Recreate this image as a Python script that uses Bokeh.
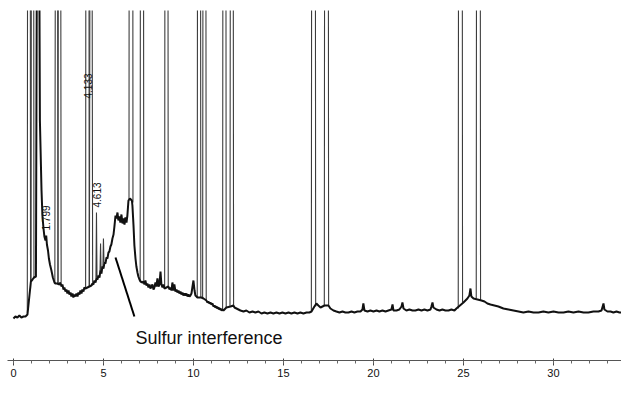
from math import pi
from bokeh.plotting import figure
from bokeh.models import Range1d, FixedTicker, Label
from bokeh.embed import file_html
from bokeh.resources import INLINE

# ---- data (retention time in min, detector signal in arbitrary units) ----
base_t = [
    0.00, 0.11, 0.22, 0.33, 0.44, 0.56, 0.67, 0.78, 0.86, 0.97, 1.06, 1.14, 1.25, 1.36, 1.47,
    1.56, 1.61, 1.67, 1.72, 1.78, 1.82, 1.86, 1.92, 1.97, 2.03, 2.11, 2.19, 2.28,
    2.33, 2.44, 2.56, 2.61, 2.67, 2.72, 2.78, 2.83, 2.89, 2.94, 3.00, 3.06, 3.11, 3.17, 3.22,
    3.28, 3.33, 3.39, 3.44, 3.50, 3.56, 3.61, 3.67, 3.72, 3.78, 3.83, 3.89, 3.94, 4.00,
    4.11, 4.22, 4.33, 4.39, 4.44, 4.50, 4.56, 4.61, 4.67, 4.72, 4.78, 4.83, 4.89, 4.94, 5.00,
    5.06, 5.11, 5.17, 5.22, 5.28, 5.33, 5.39, 5.44, 5.50, 5.56, 5.61, 5.67, 5.72, 5.78, 5.83,
    5.89, 5.94, 6.00, 6.06, 6.11, 6.17, 6.22, 6.28, 6.33, 6.39,
    6.47, 6.58, 6.61, 6.67, 6.72, 6.78, 6.83, 6.89, 6.94, 7.00, 7.06, 7.17, 7.22, 7.28, 7.33,
    7.39, 7.44, 7.50, 7.56, 7.61, 7.67, 7.72, 7.78, 7.83, 7.89, 7.94, 8.00, 8.06, 8.11, 8.17,
    8.22, 8.28, 8.33, 8.39, 8.61, 8.67, 8.72, 8.78, 8.83, 8.89, 8.94, 9.00, 9.06, 9.11, 9.17,
    9.22, 9.28, 9.33, 9.39, 9.44, 9.50, 9.56, 9.61, 9.67, 9.72, 9.78, 9.83, 9.89, 9.94, 10.00,
    10.06, 10.11, 10.17, 10.22, 10.44, 10.56, 10.72, 10.78, 10.83, 10.89, 10.94, 11.00, 11.06,
    11.11, 11.17, 11.22, 11.28, 11.33, 11.39, 11.44, 11.50, 11.56, 11.61, 11.67, 11.83, 12.06,
    12.22, 12.28, 12.39, 12.50, 12.61, 12.78, 12.94, 13.11, 13.28, 13.44, 13.61, 13.78, 13.94,
    14.11, 14.28, 14.44, 14.61, 14.78, 14.94, 15.11, 15.28, 15.44, 15.61, 15.78, 15.94, 16.11,
    16.28, 16.44, 16.56, 16.72, 16.83, 16.94, 17.06, 17.17, 17.28, 17.50, 17.61, 17.78, 17.94,
    18.11, 18.28, 18.44, 18.61, 18.78, 18.94, 19.11, 19.28, 19.39, 19.44, 19.50, 19.67, 19.83,
    20.00, 20.17, 20.33, 20.50, 20.67, 20.83, 21.00, 21.06, 21.11, 21.28, 21.44, 21.56, 21.61,
    21.67, 21.83, 22.00, 22.17, 22.33, 22.50, 22.67, 22.83, 23.00, 23.17, 23.22, 23.28, 23.33,
    23.50, 23.67, 23.83, 24.00, 24.17, 24.33, 24.50, 24.61, 25.00, 25.11, 25.22, 25.33, 25.39,
    25.44, 25.56, 26.00, 26.17, 26.33, 26.50, 26.72, 26.94, 27.22, 27.50, 27.78, 28.06, 28.33,
    28.61, 28.89, 29.17, 29.44, 29.72, 30.00, 30.28, 30.56, 30.83, 31.11, 31.39, 31.67, 31.94,
    32.22, 32.50, 32.67, 32.78, 32.83, 33.00, 33.17, 33.33, 33.50, 33.67, 33.78,
]
base_s = [
    42, 44, 43, 45, 43, 44, 44, 46, 60, 79, 81, 83, 84, 760, 240,
    170, 145, 132, 124, 120, 125, 116, 110, 102, 96, 90, 83, 78,
    77, 77, 76, 78, 74, 76, 71, 73, 69, 71, 67, 70, 66, 68, 64,
    67, 63, 66, 64, 67, 64, 68, 66, 70, 67, 71, 69, 73, 72,
    73, 74, 75, 77, 76, 80, 78, 82, 81, 85, 83, 90, 87, 94, 92,
    98, 97, 103, 102, 108, 109, 114, 116, 122, 126, 134, 145, 142, 148, 140,
    144, 138, 146, 137, 142, 136, 143, 138, 145, 160,
    162, 160, 155, 135, 115, 102, 94, 88, 84, 81, 79, 78, 79, 76, 80,
    75, 77, 73, 76, 72, 74, 76, 71, 73, 78, 74, 82, 74, 76, 89,
    76, 73, 76, 72, 74, 71, 73, 70, 78, 70, 76, 69, 71, 68, 70,
    67, 69, 66, 68, 65, 67, 65, 67, 64, 66, 64, 65, 67, 73, 80,
    70, 65, 64, 63, 63, 62, 60, 58, 59, 57, 58, 56, 57,
    54, 55, 53, 54, 52, 53, 51, 52, 50, 51, 50, 53, 54,
    55, 53, 52, 51, 50, 49, 50, 48, 49, 48, 49, 47, 48,
    47, 48, 47, 48, 47, 48, 47, 48, 47, 48, 47, 48, 47,
    48, 48, 49, 54, 57, 55, 53, 54, 55, 55, 52, 50, 49,
    48, 49, 48, 48, 49, 48, 49, 49, 51, 57, 50, 49, 50,
    49, 50, 49, 50, 49, 50, 51, 56, 50, 50, 51, 54, 58,
    52, 50, 51, 50, 50, 51, 50, 51, 50, 51, 54, 58, 53,
    51, 50, 51, 50, 50, 51, 50, 52, 58, 60, 62, 65, 72,
    64, 62, 60, 59, 57, 56, 55, 54, 52, 51, 50, 49, 48,
    49, 48, 48, 49, 48, 49, 48, 48, 49, 48, 49, 48, 48,
    49, 49, 50, 57, 51, 49, 49, 48, 49, 48, 48,
]

# narrow peaks: retention time, half width at foot, foot levels, apex (off scale)
peak_rt = [0.86, 1.06, 2.39, 2.56, 4.11, 4.31, 4.613, 4.84, 5.00, 6.53, 7.14, 8.50,
           10.31, 10.61, 11.72, 12.13, 16.67, 17.39, 24.83, 25.83]
peak_hw = [0.09, 0.08, 0.09, 0.09, 0.10, 0.09, 0.03, 0.03, 0.03, 0.11, 0.10, 0.10,
           0.10, 0.10, 0.10, 0.10, 0.12, 0.12, 0.12, 0.12]
peak_foot_l = [47, 79, 77, 76, 73, 74, 82, 90, 92, 161, 79, 72, 63, 62, 50, 54, 49, 55, 52, 62]
peak_foot_r = [72, 82, 77, 78, 74, 75, 81, 87, 98, 158, 78, 74, 63, 60, 53, 55, 54, 55, 58, 60]
peak_apex = [2500, 2000, 1200, 1500, 3000, 1100, 148, 117, 122, 4000, 3000, 2500,
             2500, 2000, 2500, 2000, 3000, 3000, 3000, 3000]

peak_labels = ["1.799", "4.133", "4.613"]
label_t = [1.81, 4.14, 4.64]
label_s = [130, 262, 153]

major_ticks = [0, 5, 10, 15, 20, 25, 30]
minor_ticks = list(range(0, 34))

FONT = "Liberation Sans"

p = figure(width=621, height=397, x_range=Range1d(-0.33, 33.78), y_range=Range1d(0, 350),
           output_backend="svg", toolbar_location=None, y_axis_location=None,
           min_border_left=7, min_border_right=0, min_border_top=10, min_border_bottom=37)
p.outline_line_color = None
p.grid.visible = False
p.background_fill_color = "white"
p.border_fill_color = "white"

# peaks (gray thin strokes)
xs = [[t - h, t, t + h] for t, h in zip(peak_rt, peak_hw)]
ys = [[fl, a, fr] for fl, a, fr in zip(peak_foot_l, peak_apex, peak_foot_r)]
p.multi_line(xs, ys, line_color="#3c3c3c", line_width=1.1)

# baseline trace (thick noisy black)
p.line(base_t, base_s, line_color="#111111", line_width=2.0)

# x axis
ax = p.xaxis[0]
ax.ticker = FixedTicker(ticks=major_ticks, minor_ticks=minor_ticks)
ax.axis_line_color = "#555555"
ax.axis_line_width = 1
ax.major_tick_in = 2
ax.major_tick_out = 5
ax.minor_tick_in = 0
ax.minor_tick_out = 3
ax.major_tick_line_color = "#444444"
ax.minor_tick_line_color = "#666666"
ax.major_label_text_font = FONT
ax.major_label_text_font_size = "11px"
ax.major_label_text_color = "#111111"
ax.major_label_standoff = 3

p.add_layout(Label(x=33.72, y=-17, text="min", text_font=FONT, text_font_size="11px",
                   text_color="#111111", text_baseline="alphabetic", text_align="right"))

# rotated retention-time labels
for txt, t, s in zip(peak_labels, label_t, label_s):
    p.add_layout(Label(x=t, y=s, text=txt, angle=pi / 2, text_font=FONT,
                       text_font_size="10px", text_color="#111111",
                       text_align="left", text_baseline="middle"))

# sulfur interference annotation
p.line([5.67, 6.72], [103, 44], line_color="black", line_width=2)
p.add_layout(Label(x=6.78, y=23, text="Sulfur interference", text_font=FONT,
                   text_font_size="18px", text_color="#111111",
                   text_baseline="alphabetic", text_align="left"))

open("out.html", "w").write(file_html(p, INLINE))
